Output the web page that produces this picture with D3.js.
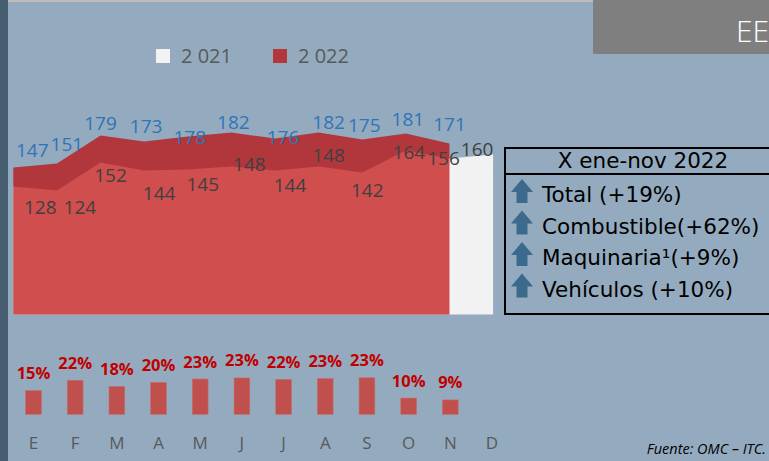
<!DOCTYPE html>
<html>
<head>
<meta charset="utf-8">
<script src="https://cdn.jsdelivr.net/npm/d3@7"></script>
<style>
    html, body { margin: 0; padding: 0; background: #94abbf; }
    svg { display: block; }
</style>
</head>
<body>
<script>
// Chart data
const months = ['E', 'F', 'M', 'A', 'M', 'J', 'J', 'A', 'S', 'O', 'N', 'D'];
const values2021 = [128, 124, 152, 144, 145, 148, 144, 148, 142, 164, 156, 160];
const values2022 = [147, 151, 179, 173, 178, 182, 176, 182, 175, 181, 171];
const growthPct = [15.2, 21.8, 17.8, 20.4, 22.6, 23.3, 22.4, 22.9, 23.4, 10.4, 9.2];
const seriesNames = ['2 021', '2 022'];
const summaryTitle = 'X ene-nov 2022';
const summaryItems = ['Total (+19%)', 'Combustible(+62%)', 'Maquinaria\u00b9(+9%)', 'Veh\u00edculos (+10%)'];

// Manual label nudges (dx, dy) as placed in the original
const shift2022 = [[19, -11], [10, -13], [0, -6], [2, -9], [2, 7], [2, -4], [8, 5], [10, -4], [2, -8], [2, -8], [0, -13]];
const shift2021 = [[27, 27], [23, 23], [10, 19], [15, 29], [15, 21], [18, 4], [15, 21], [10, -5], [5, 24], [3, 8], [-6, 6], [-16, 1]];

const width = 769, height = 461;
const colors = {
    bg: '#94abbf',
    y2021: '#f2f2f2',
    y2022: '#c00000',
    label2022: '#2e75b6',
    label2021: '#404040',
    bar: '#c0504d',
    arrow: '#3b6a8c'
};

const svg = d3.select('body').append('svg')
    .attr('width', width)
    .attr('height', height);

svg.append('rect').attr('width', width).attr('height', height).attr('fill', colors.bg);

// Slide decorations
svg.append('rect').attr('x', 0).attr('y', 0).attr('width', 8).attr('height', height).attr('fill', '#465e70');
svg.append('rect').attr('x', 8).attr('y', 0).attr('width', 585).attr('height', 2).attr('fill', '#bdbdbd');
svg.append('rect').attr('x', 593).attr('y', 0).attr('width', 176).attr('height', 54).attr('fill', '#7f7f7f');
svg.append('text')
    .attr('x', 736).attr('y', 42)
    .style('font-family', 'Open Sans')
    .style('font-size', '30px')
    .style('font-weight', 300)
    .style('fill', '#fff')
    .text('EE');

// Area chart scales
const x = d3.scalePoint().domain(d3.range(months.length)).range([13.3, 493.1]);
const y = d3.scaleLinear().domain([0, 200]).range([314.5, 114.5]);

const area = d3.area()
    .x((d, i) => x(i))
    .y0(y(0))
    .y1(d => y(d));

svg.append('path')
    .datum(values2021)
    .attr('d', area)
    .attr('fill', colors.y2021);

svg.append('path')
    .datum(values2022)
    .attr('d', area)
    .attr('fill', colors.y2022)
    .attr('fill-opacity', 0.68);

// Value labels
const labelFont = 'Open Sans';
svg.append('g').selectAll('text')
    .data(values2022)
    .join('text')
    .attr('x', (d, i) => x(i) + shift2022[i][0])
    .attr('y', (d, i) => y(d) + shift2022[i][1])
    .attr('text-anchor', 'middle')
    .style('font-family', labelFont)
    .style('font-size', '19px')
    .style('fill', colors.label2022)
    .text(d => d);

svg.append('g').selectAll('text')
    .data(values2021)
    .join('text')
    .attr('x', (d, i) => x(i) + shift2021[i][0])
    .attr('y', (d, i) => y(d) + shift2021[i][1])
    .attr('text-anchor', 'middle')
    .style('font-family', labelFont)
    .style('font-size', '19px')
    .style('fill', colors.label2021)
    .text(d => d);

// Legend
const legend = svg.append('g').attr('transform', 'translate(156,49)');
seriesNames.forEach((name, i) => {
    const g = legend.append('g').attr('transform', `translate(${i * 117},0)`);
    g.append('rect')
        .attr('width', 14).attr('height', 14)
        .attr('fill', i === 0 ? colors.y2021 : colors.y2022)
        .attr('fill-opacity', i === 0 ? 1 : 0.68);
    g.append('text')
        .attr('x', 25).attr('y', 14)
        .style('font-family', labelFont)
        .style('font-size', '20px')
        .style('fill', '#595959')
        .text(name);
});

// Growth bars
const xb = d3.scalePoint().domain(d3.range(months.length)).range([33.5, 492]);
const yb = d3.scaleLinear().domain([0, 25]).range([414.3, 375.3]);
const barW = 15.7;

svg.append('g').selectAll('rect')
    .data(growthPct)
    .join('rect')
    .attr('x', (d, i) => xb(i) - barW / 2)
    .attr('y', d => yb(d))
    .attr('width', barW)
    .attr('height', d => yb(0) - yb(d))
    .attr('fill', colors.bar)
    .attr('stroke', '#c96a66')
    .attr('stroke-width', 0.6);

svg.append('g').selectAll('text')
    .data(growthPct)
    .join('text')
    .attr('x', (d, i) => xb(i))
    .attr('y', d => yb(d) - 11.5)
    .attr('text-anchor', 'middle')
    .style('font-family', labelFont)
    .style('font-size', '16.5px')
    .style('font-weight', 'bold')
    .style('fill', '#c00000')
    .text(d => d3.format('.0f')(d) + '%');

// Month axis
svg.append('g').selectAll('text')
    .data(months)
    .join('text')
    .attr('x', (d, i) => xb(i))
    .attr('y', 449)
    .attr('text-anchor', 'middle')
    .style('font-family', labelFont)
    .style('font-size', '17px')
    .style('fill', '#595959')
    .text(d => d);

// Summary box
const box = svg.append('g');
box.append('rect')
    .attr('x', 505).attr('y', 148)
    .attr('width', 280).attr('height', 166)
    .attr('fill', 'none')
    .attr('stroke', '#000')
    .attr('stroke-width', 2);
box.append('line')
    .attr('x1', 505).attr('x2', 785)
    .attr('y1', 174).attr('y2', 174)
    .attr('stroke', '#000')
    .attr('stroke-width', 2);
box.append('text')
    .attr('x', 643).attr('y', 168)
    .attr('text-anchor', 'middle')
    .style('font-family', 'DejaVu Sans')
    .style('font-size', '21.5px')
    .style('fill', '#000')
    .text(summaryTitle);

const rowY = d3.scalePoint().domain(d3.range(summaryItems.length)).range([202, 296.5]);
const arrowPath = 'M0,13 L11,0 L22,13 L16.5,13 L16.5,24 L5.5,24 L5.5,13 Z';

summaryItems.forEach((item, i) => {
    box.append('path')
        .attr('d', arrowPath)
        .attr('transform', `translate(511,${rowY(i) - 23})`)
        .attr('fill', colors.arrow);
    box.append('text')
        .attr('x', 542).attr('y', rowY(i))
        .style('font-family', 'DejaVu Sans')
        .style('font-size', '21.5px')
        .style('fill', '#000')
        .text(item);
});

// Source note
svg.append('text')
    .attr('x', 766).attr('y', 454)
    .attr('text-anchor', 'end')
    .style('font-family', labelFont)
    .style('font-size', '14.5px')
    .style('font-style', 'italic')
    .style('fill', '#000')
    .text('Fuente: OMC \u2013 ITC.');
</script>
</body>
</html>
